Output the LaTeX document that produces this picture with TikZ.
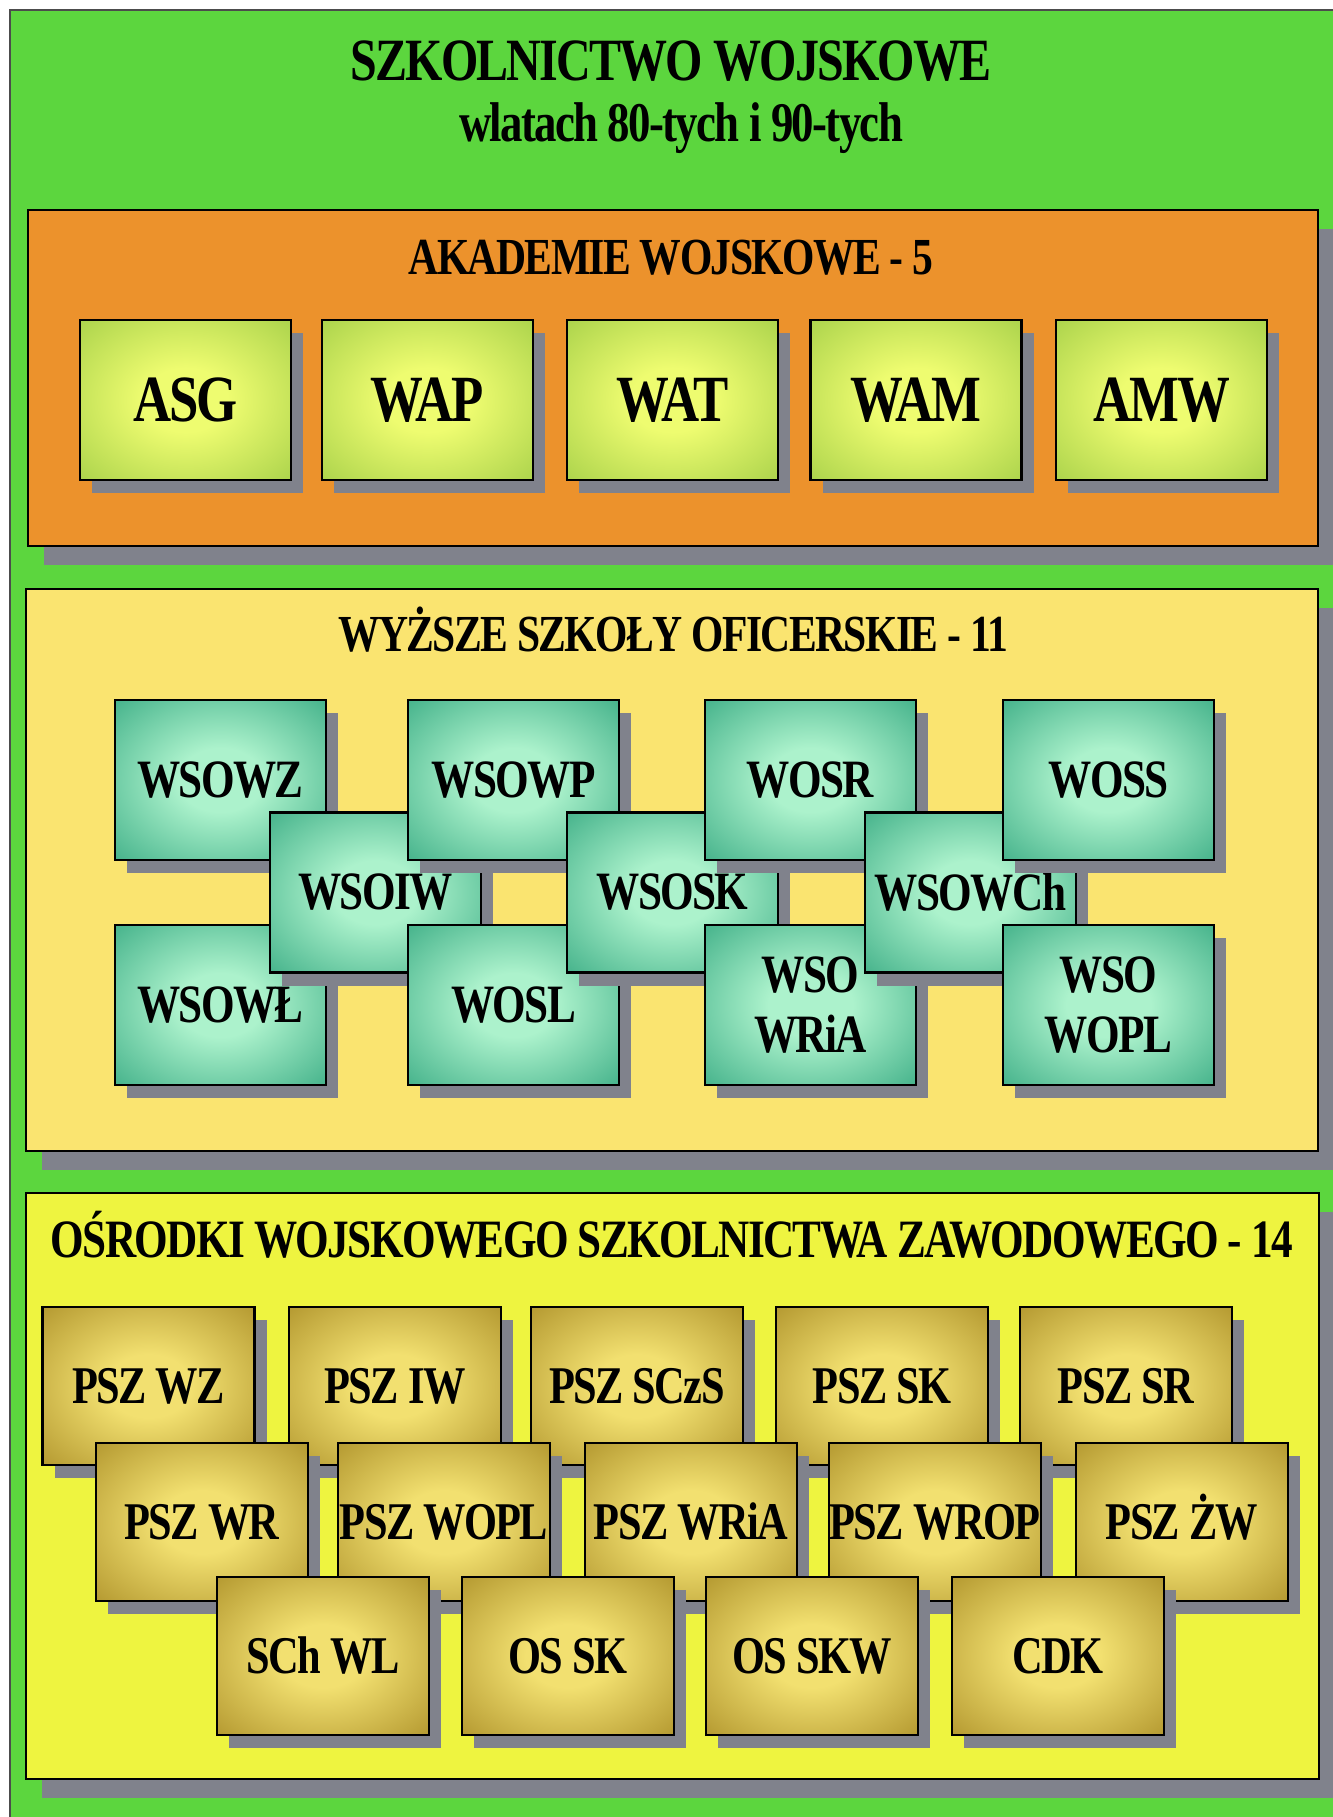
\documentclass[tikz,border=0pt]{standalone}
\usepackage{fontspec}
\setmainfont[FakeStretch=0.8, LetterSpace=-3]{Liberation Serif}
\usepackage{tikz}
\usetikzlibrary{shadows}
\usepackage{xcolor}
\definecolor{bggreen}{RGB}{92,214,62}
\definecolor{akorange}{RGB}{236,146,44}
\definecolor{wsoyellow}{RGB}{250,228,112}
\definecolor{oszyellow}{RGB}{238,244,64}
\definecolor{shadowgrey}{RGB}{128,130,140}
\definecolor{akin}{RGB}{238,252,112}
\definecolor{akout}{RGB}{150,198,64}
\definecolor{tealin}{RGB}{172,242,204}
\definecolor{tealout}{RGB}{36,158,118}
\definecolor{goldin}{RGB}{242,224,112}
\definecolor{goldout}{RGB}{160,130,28}

\pgfdeclareradialshading{akglow}{\pgfpoint{0bp}{0bp}}{color(0bp)=(akin); color(10bp)=(akin); color(44bp)=(akout); color(50bp)=(akout)}
\pgfdeclareradialshading{tealglow}{\pgfpoint{0bp}{0bp}}{color(0bp)=(tealin); color(10bp)=(tealin); color(44bp)=(tealout); color(50bp)=(tealout)}
\pgfdeclareradialshading{goldglow}{\pgfpoint{0bp}{0bp}}{color(0bp)=(goldin); color(10bp)=(goldin); color(44bp)=(goldout); color(50bp)=(goldout)}

\tikzset{
  panel/.style={draw=black, line width=1.3pt,
    general shadow={fill=shadowgrey, shadow xshift=8pt, shadow yshift=-9.5pt}},
  schoolbox/.style={draw=black, line width=1.3pt, shade, inner sep=0pt,
    minimum width=105.5pt, minimum height=80pt,
    general shadow={fill=shadowgrey, shadow xshift=6pt, shadow yshift=-6.5pt}},
  akbox/.style={schoolbox, shading=akglow, text height=21.8pt, text depth=0pt,
    font=\fontsize{33}{36}\selectfont\bfseries},
  wsobox/.style={schoolbox, shading=tealglow, align=center, font=\fontsize{27}{30}\selectfont\bfseries},
  pszbox/.style={schoolbox, shading=goldglow, minimum width=106pt, minimum height=79pt,
    text height=17.5pt, text depth=0pt, font=\fontsize{26.5}{29}\selectfont\bfseries},
  heading/.style={anchor=base, inner sep=0pt, font=\fontsize{26}{28}\selectfont\bfseries}
}

\begin{document}
\begin{tikzpicture}[x=0.5pt, y=-0.5pt]
  \useasboundingbox (0,0) rectangle (1333,1817);
  \fill[bggreen] (10,10) rectangle (1333,1817);
  \draw[black!70, line width=0.6pt] (10,1817) -- (10,10) -- (1333,10);

  \node[heading, font=\fontsize{30}{32}\selectfont\bfseries] (title) at (671,80) {SZKOLNICTWO WOJSKOWE};
  \node[heading, font=\fontsize{28}{30}\selectfont\bfseries] (subtitle) at (681,141) {wlatach 80-tych i 90-tych};

  % akademie
  \draw[panel, fill=akorange] (28,210) rectangle (1318,546);
  \node[heading] (aktitle) at (671,274) {AKADEMIE WOJSKOWE - 5};
  \node[akbox] (asg) at (185.5,400) {ASG};
  \node[akbox] (wap) at (427.5,400) {WAP};
  \node[akbox] (wat) at (672.5,400) {WAT};
  \node[akbox] (wam) at (916,400) {WAM};
  \node[akbox] (amw) at (1161.5,400) {AMW};

  % wyzsze szkoly oficerskie
  \draw[panel, fill=wsoyellow] (26,589) rectangle (1318,1151);
  \node[heading] (wsotitle) at (673,651) {WYŻSZE SZKOŁY OFICERSKIE - 11};
  \node[wsobox] (wsowz) at (220.5,780) {WSOWZ};
  \node[wsobox] (wsowl) at (220.5,1005) {WSOWŁ};
  \node[wsobox] (wsoiw) at (375.5,892.5) {WSOIW};
  \node[wsobox] (wsowp) at (513.5,780) {WSOWP};
  \node[wsobox] (wosl) at (513.5,1005) {WOSL};
  \node[wsobox] (wsosk) at (672.5,892.5) {WSOSK};
  \node[wsobox] (wosr) at (810.5,780) {WOSR};
  \node[wsobox] (wsowria) at (810.5,1005) {WSO\\WRiA};
  \node[wsobox] (wsowch) at (970.5,892.5) {WSOWCh};
  \node[wsobox] (woss) at (1108.5,780) {WOSS};
  \node[wsobox] (wsowopl) at (1108.5,1005) {WSO\\WOPL};

  % osrodki szkolnictwa zawodowego
  \draw[panel, fill=oszyellow] (26,1193) rectangle (1319,1779);
  \node[heading, font=\fontsize{27}{29}\selectfont\bfseries] (osztitle) at (672,1257) {OŚRODKI WOJSKOWEGO SZKOLNICTWA ZAWODOWEGO - 14};
  \node[pszbox] (pszwz) at (148.5,1386) {PSZ WZ};
  \node[pszbox] (psziw) at (395,1386) {PSZ IW};
  \node[pszbox] (pszscs) at (637,1386) {PSZ SCzS};
  \node[pszbox] (pszsk) at (882,1386) {PSZ SK};
  \node[pszbox] (pszsr) at (1126,1386) {PSZ SR};
  \node[pszbox] (pszwr) at (202,1522) {PSZ WR};
  \node[pszbox] (pszwopl) at (444,1522) {PSZ WOPL};
  \node[pszbox] (pszwria) at (691,1522) {PSZ WRiA};
  \node[pszbox] (pszwrop) at (935,1522) {PSZ WROP};
  \node[pszbox] (pszzw) at (1182,1522) {PSZ ŻW};
  \node[pszbox] (schwl) at (323,1656) {SCh WL};
  \node[pszbox] (ossk) at (568,1656) {OS SK};
  \node[pszbox] (osskw) at (812,1656) {OS SKW};
  \node[pszbox] (cdk) at (1058,1656) {CDK};
\end{tikzpicture}
\end{document}
